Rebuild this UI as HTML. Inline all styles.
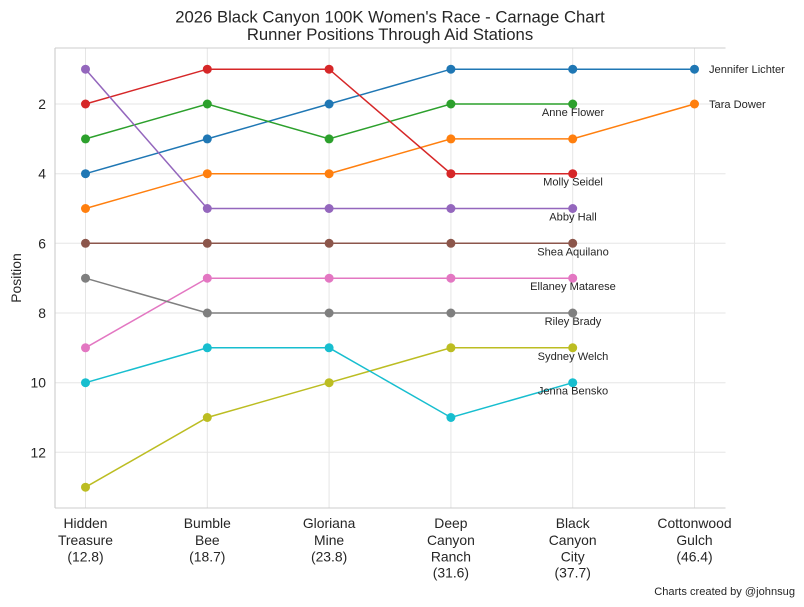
<!DOCTYPE html>
<html>
<head>
<meta charset="utf-8">
<style>
  html, body { margin: 0; padding: 0; background: #ffffff; }
  body { width: 804px; height: 607px; overflow: hidden; }
  svg { display: block; }
  text { font-family: "Liberation Sans", Arial, sans-serif; fill: #262626; }
</style>
</head>
<body>
<svg width="804" height="607" viewBox="0 0 804 607" xmlns="http://www.w3.org/2000/svg">
  <rect x="0" y="0" width="804" height="607" fill="#ffffff"/>

  <!-- Gridlines -->
  <g stroke="#e5e5e5" stroke-width="1">
    <line x1="85.5" y1="48" x2="85.5" y2="508"/>
    <line x1="207.3" y1="48" x2="207.3" y2="508"/>
    <line x1="329.1" y1="48" x2="329.1" y2="508"/>
    <line x1="450.9" y1="48" x2="450.9" y2="508"/>
    <line x1="572.7" y1="48" x2="572.7" y2="508"/>
    <line x1="694.5" y1="48" x2="694.5" y2="508"/>
    <line x1="55" y1="104.0" x2="725.5" y2="104.0"/>
    <line x1="55" y1="173.7" x2="725.5" y2="173.7"/>
    <line x1="55" y1="243.3" x2="725.5" y2="243.3"/>
    <line x1="55" y1="313.0" x2="725.5" y2="313.0"/>
    <line x1="55" y1="382.7" x2="725.5" y2="382.7"/>
    <line x1="55" y1="452.3" x2="725.5" y2="452.3"/>
  </g>

  <!-- Spines -->
  <g stroke="#cccccc" stroke-width="1.1">
    <line x1="55" y1="48" x2="725.5" y2="48"/>
    <line x1="55" y1="508" x2="725.5" y2="508"/>
    <line x1="55" y1="48" x2="55" y2="508"/>
  </g>

  <!-- Series -->
  <g stroke-width="1.5" fill="none">
    <!-- Jennifer Lichter -->
    <polyline stroke="#1f77b4" points="85.5,173.7 207.3,138.9 329.1,104.0 450.9,69.2 572.7,69.2 694.5,69.2"/>
    <!-- Tara Dower -->
    <polyline stroke="#ff7f0e" points="85.5,208.5 207.3,173.7 329.1,173.7 450.9,138.9 572.7,138.9 694.5,104.0"/>
    <!-- Anne Flower -->
    <polyline stroke="#2ca02c" points="85.5,138.9 207.3,104.0 329.1,138.9 450.9,104.0 572.7,104.0"/>
    <!-- Molly Seidel -->
    <polyline stroke="#d62728" points="85.5,104.0 207.3,69.2 329.1,69.2 450.9,173.7 572.7,173.7"/>
    <!-- Abby Hall -->
    <polyline stroke="#9467bd" points="85.5,69.2 207.3,208.5 329.1,208.5 450.9,208.5 572.7,208.5"/>
    <!-- Shea Aquilano -->
    <polyline stroke="#8c564b" points="85.5,243.3 207.3,243.3 329.1,243.3 450.9,243.3 572.7,243.3"/>
    <!-- Ellaney Matarese -->
    <polyline stroke="#e377c2" points="85.5,347.8 207.3,278.2 329.1,278.2 450.9,278.2 572.7,278.2"/>
    <!-- Riley Brady -->
    <polyline stroke="#7f7f7f" points="85.5,278.2 207.3,313.0 329.1,313.0 450.9,313.0 572.7,313.0"/>
    <!-- Sydney Welch -->
    <polyline stroke="#bcbd22" points="85.5,487.2 207.3,417.5 329.1,382.7 450.9,347.8 572.7,347.8"/>
    <!-- Jenna Bensko -->
    <polyline stroke="#17becf" points="85.5,382.7 207.3,347.8 329.1,347.8 450.9,417.5 572.7,382.7"/>
  </g>

  <!-- Markers -->
  <g fill="#1f77b4">
    <circle cx="85.5" cy="173.7" r="4.5"/><circle cx="207.3" cy="138.9" r="4.5"/><circle cx="329.1" cy="104.0" r="4.5"/>
    <circle cx="450.9" cy="69.2" r="4.5"/><circle cx="572.7" cy="69.2" r="4.5"/><circle cx="694.5" cy="69.2" r="4.5"/>
  </g>
  <g fill="#ff7f0e">
    <circle cx="85.5" cy="208.5" r="4.5"/><circle cx="207.3" cy="173.7" r="4.5"/><circle cx="329.1" cy="173.7" r="4.5"/>
    <circle cx="450.9" cy="138.9" r="4.5"/><circle cx="572.7" cy="138.9" r="4.5"/><circle cx="694.5" cy="104.0" r="4.5"/>
  </g>
  <g fill="#2ca02c">
    <circle cx="85.5" cy="138.9" r="4.5"/><circle cx="207.3" cy="104.0" r="4.5"/><circle cx="329.1" cy="138.9" r="4.5"/>
    <circle cx="450.9" cy="104.0" r="4.5"/><circle cx="572.7" cy="104.0" r="4.5"/>
  </g>
  <g fill="#d62728">
    <circle cx="85.5" cy="104.0" r="4.5"/><circle cx="207.3" cy="69.2" r="4.5"/><circle cx="329.1" cy="69.2" r="4.5"/>
    <circle cx="450.9" cy="173.7" r="4.5"/><circle cx="572.7" cy="173.7" r="4.5"/>
  </g>
  <g fill="#9467bd">
    <circle cx="85.5" cy="69.2" r="4.5"/><circle cx="207.3" cy="208.5" r="4.5"/><circle cx="329.1" cy="208.5" r="4.5"/>
    <circle cx="450.9" cy="208.5" r="4.5"/><circle cx="572.7" cy="208.5" r="4.5"/>
  </g>
  <g fill="#8c564b">
    <circle cx="85.5" cy="243.3" r="4.5"/><circle cx="207.3" cy="243.3" r="4.5"/><circle cx="329.1" cy="243.3" r="4.5"/>
    <circle cx="450.9" cy="243.3" r="4.5"/><circle cx="572.7" cy="243.3" r="4.5"/>
  </g>
  <g fill="#e377c2">
    <circle cx="85.5" cy="347.8" r="4.5"/><circle cx="207.3" cy="278.2" r="4.5"/><circle cx="329.1" cy="278.2" r="4.5"/>
    <circle cx="450.9" cy="278.2" r="4.5"/><circle cx="572.7" cy="278.2" r="4.5"/>
  </g>
  <g fill="#7f7f7f">
    <circle cx="85.5" cy="278.2" r="4.5"/><circle cx="207.3" cy="313.0" r="4.5"/><circle cx="329.1" cy="313.0" r="4.5"/>
    <circle cx="450.9" cy="313.0" r="4.5"/><circle cx="572.7" cy="313.0" r="4.5"/>
  </g>
  <g fill="#bcbd22">
    <circle cx="85.5" cy="487.2" r="4.5"/><circle cx="207.3" cy="417.5" r="4.5"/><circle cx="329.1" cy="382.7" r="4.5"/>
    <circle cx="450.9" cy="347.8" r="4.5"/><circle cx="572.7" cy="347.8" r="4.5"/>
  </g>
  <g fill="#17becf">
    <circle cx="85.5" cy="382.7" r="4.5"/><circle cx="207.3" cy="347.8" r="4.5"/><circle cx="329.1" cy="347.8" r="4.5"/>
    <circle cx="450.9" cy="417.5" r="4.5"/><circle cx="572.7" cy="382.7" r="4.5"/>
  </g>

  <!-- Runner labels -->
  <g font-size="11.1">
    <text x="709" y="73">Jennifer Lichter</text>
    <text x="709" y="108">Tara Dower</text>
    <g text-anchor="middle">
      <text x="573" y="116">Anne Flower</text>
      <text x="573" y="185.5">Molly Seidel</text>
      <text x="573" y="220.5">Abby Hall</text>
      <text x="573" y="255.3">Shea Aquilano</text>
      <text x="573" y="290.2">Ellaney Matarese</text>
      <text x="573" y="325">Riley Brady</text>
      <text x="573" y="359.8">Sydney Welch</text>
      <text x="573" y="394.7">Jenna Bensko</text>
    </g>
  </g>

  <!-- Y tick labels -->
  <g font-size="13.9" text-anchor="end">
    <text x="46" y="109">2</text>
    <text x="46" y="178.7">4</text>
    <text x="46" y="248.3">6</text>
    <text x="46" y="318">8</text>
    <text x="46" y="387.7">10</text>
    <text x="46" y="457.3">12</text>
  </g>

  <!-- Y axis label -->
  <text font-size="13.9" text-anchor="middle" transform="translate(21,278) rotate(-90)">Position</text>

  <!-- X tick labels -->
  <g font-size="13.9" text-anchor="middle">
    <text x="85.5" y="528">Hidden</text>
    <text x="85.5" y="545">Treasure</text>
    <text x="85.5" y="561.5">(12.8)</text>

    <text x="207.3" y="528">Bumble</text>
    <text x="207.3" y="545">Bee</text>
    <text x="207.3" y="561.5">(18.7)</text>

    <text x="329.1" y="528">Gloriana</text>
    <text x="329.1" y="545">Mine</text>
    <text x="329.1" y="561.5">(23.8)</text>

    <text x="450.9" y="528">Deep</text>
    <text x="450.9" y="545">Canyon</text>
    <text x="450.9" y="561.5">Ranch</text>
    <text x="450.9" y="577.5">(31.6)</text>

    <text x="572.7" y="528">Black</text>
    <text x="572.7" y="545">Canyon</text>
    <text x="572.7" y="561.5">City</text>
    <text x="572.7" y="577.5">(37.7)</text>

    <text x="694.5" y="528">Cottonwood</text>
    <text x="694.5" y="545">Gulch</text>
    <text x="694.5" y="561.5">(46.4)</text>
  </g>

  <!-- Title -->
  <g font-size="16.7" text-anchor="middle">
    <text x="390" y="22.5">2026 Black Canyon 100K Women's Race - Carnage Chart</text>
    <text x="390" y="40">Runner Positions Through Aid Stations</text>
  </g>

  <!-- Footer -->
  <text x="795" y="595" font-size="11.1" text-anchor="end">Charts created by @johnsug</text>
</svg>
</body>
</html>
